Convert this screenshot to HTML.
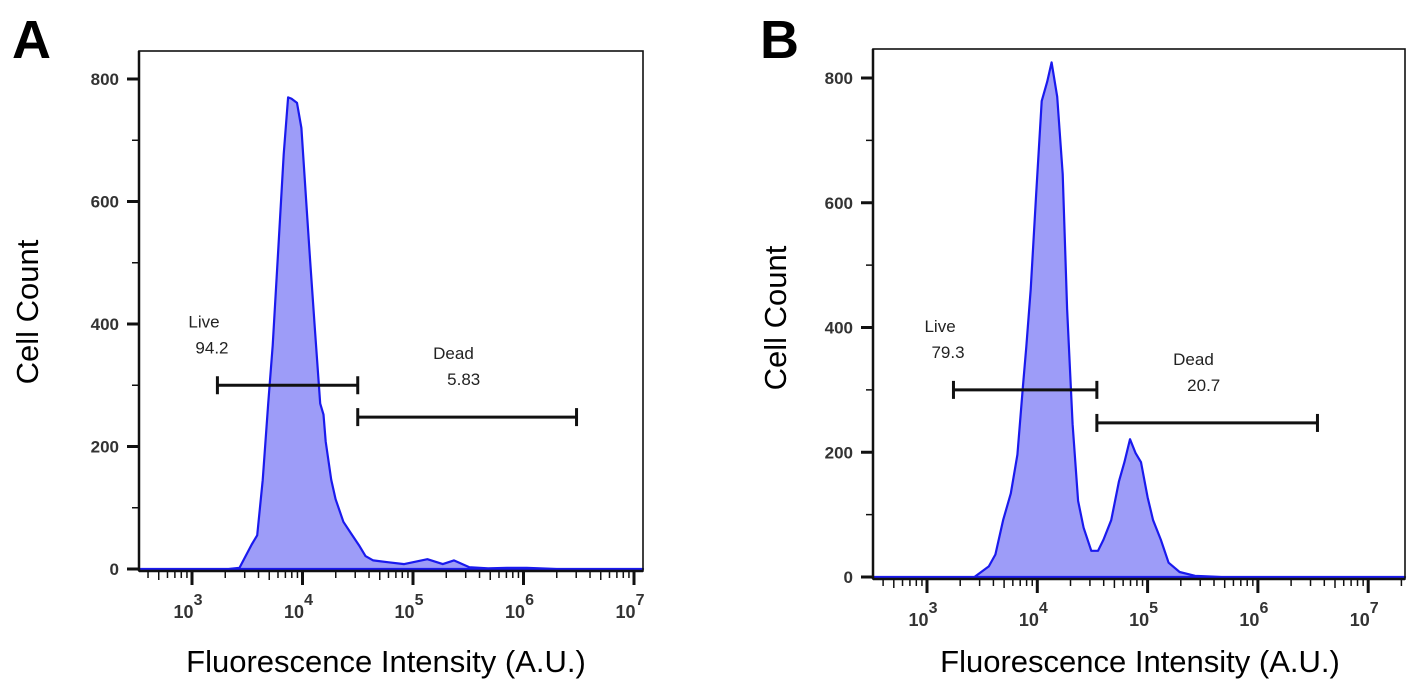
<!DOCTYPE html>
<html><head><meta charset="utf-8"><style>
html,body{margin:0;padding:0;background:#fff;}
svg{display:block;font-family:"Liberation Sans",Arial,sans-serif;}
</style></head><body>
<svg id="fig" width="1417" height="689" viewBox="0 0 1417 689">
<text x="12" y="58" font-size="54" font-weight="bold">A</text>
<text x="760" y="58" font-size="54" font-weight="bold">B</text>
<text transform="translate(38,312) rotate(-90)" text-anchor="middle" font-size="31">Cell Count</text>
<text transform="translate(786,318) rotate(-90)" text-anchor="middle" font-size="31">Cell Count</text>
<text x="386" y="672" text-anchor="middle" font-size="31">Fluorescence Intensity (A.U.)</text>
<text x="1140" y="672" text-anchor="middle" font-size="31">Fluorescence Intensity (A.U.)</text>
<g id="pa"></g>
<g id="pb"></g>
</svg>
<script>
const yTicks = [0, 200, 400, 600, 800];
const xDecades = [3, 4, 5, 6, 7];
const aLogX = [2.5,3.33,3.43,3.54,3.59,3.64,3.69,3.73,3.78,3.83,3.87,3.90,3.95,3.99,4.04,4.07,4.11,4.16,4.19,4.21,4.26,4.30,4.37,4.44,4.51,4.57,4.64,4.78,4.92,5.13,5.27,5.37,5.51,5.68,5.85,6.03,6.3,7.1];
const aCounts = [0,0,2,40,55,145,270,365,520,677,770,768,761,720,583,502,396,270,252,208,146,114,77,58,39,21,14,11,8,16,8,14,3,1,2,2,0,0];
const bLogX = [2.5,3.43,3.56,3.62,3.69,3.76,3.82,3.87,3.90,3.94,3.99,4.04,4.09,4.13,4.18,4.23,4.27,4.32,4.37,4.42,4.49,4.55,4.60,4.67,4.74,4.79,4.84,4.89,4.94,5.00,5.05,5.12,5.19,5.29,5.43,5.67,7.4];
const bCounts = [0,0,17,36,91,134,196,307,369,461,615,763,794,825,770,646,430,245,122,79,42,42,60,91,153,184,221,199,184,128,91,60,23,8,2,0,0];
const aGates = [{name:'Live',value:'94.2',from:3.23,to:4.50,y:300},{name:'Dead',value:'5.83',from:4.50,to:6.48,y:248}];
const bGates = [{name:'Live',value:'79.3',from:3.24,to:4.54,y:300},{name:'Dead',value:'20.7',from:4.54,to:6.54,y:247}];
const NS='http://www.w3.org/2000/svg';
function mk(parent, tag, attrs){const e=document.createElementNS(NS,tag);for(const k in attrs)e.setAttribute(k,attrs[k]);parent.appendChild(e);return e;}
function draw(g, cfg, xs, ys, gates, tag){
  const X=v=>cfg.x3+(v-3)*cfg.dec, Y=v=>cfg.y0-(v/800)*(cfg.y0-cfg.y800);
  const xL=cfg.left, xR=cfg.right, yT=cfg.top, yB=cfg.bottom;
  let d='M'+X(xs[0])+','+Y(0);
  xs.forEach((v,i)=>{d+=' L'+Math.max(xL,Math.min(xR,X(v))).toFixed(1)+','+Y(ys[i]).toFixed(1);});
  d+=' L'+Math.min(xR,X(xs[xs.length-1]))+','+Y(0)+' Z';
  const area=mk(g,'path',{d:d,fill:'#9d9cf8',stroke:'#1a1aee','stroke-width':2.2,'stroke-linejoin':'round'});
  
  
  const box=mk(g,'rect',{x:xL,y:yT,width:xR-xL,height:yB-yT,fill:'none',stroke:'#111','stroke-width':1.6});
  
  
  mk(g,'line',{x1:xL,y1:yB,x2:xR,y2:yB,stroke:'#111','stroke-width':2.5});
  mk(g,'line',{x1:xL,y1:yT,x2:xL,y2:yB,stroke:'#111','stroke-width':2.5});
  for(let v=0;v<=800;v+=100){const maj=v%200===0;mk(g,'line',{x1:xL-(maj?12:7),y1:Y(v),x2:xL,y2:Y(v),stroke:'#111','stroke-width':maj?3:1.5});}
  yTicks.forEach(v=>{const t=mk(g,'text',{x:xL-20,y:Y(v)+6,'text-anchor':'end','font-size':17,'font-weight':'bold',fill:'#333'});t.textContent=v;
    
    });
  for(let dd=2;dd<=7;dd++){for(let m=1;m<=9;m++){const lv=dd+Math.log10(m);const x=X(lv);if(x<xL+3||x>xR-2)continue;
    mk(g,'line',{x1:x,y1:yB,x2:x,y2:yB+(m===1?14:(m===5?9:7)),stroke:'#111','stroke-width':m===1?3:1.5});}}
  xDecades.forEach(v=>{const t=mk(g,'text',{x:X(v)-4,y:yB+47,'text-anchor':'middle','font-size':18,'font-weight':'bold',fill:'#333'});
    t.textContent='10';const s=mk(t,'tspan',{dy:-13,'font-size':16});s.textContent=v;
    
    });
  gates.forEach(gt=>{const x1=X(gt.from),x2=X(gt.to),y=Y(gt.y);
    const gg=mk(g,'g',{});
    
    
    mk(gg,'line',{x1:x1,y1:y,x2:x2,y2:y,stroke:'#111','stroke-width':3});
    mk(gg,'line',{x1:x1,y1:y-9,x2:x1,y2:y+9,stroke:'#111','stroke-width':3});
    mk(gg,'line',{x1:x2,y1:y-9,x2:x2,y2:y+9,stroke:'#111','stroke-width':3});
    const lx=gt.name==='Live'?x1-30:(x1+x2)/2-36;
    const t1=mk(gg,'text',{x:gt.name==='Live'?x1-29:lx+2,y:y-58,'font-size':17,fill:'#222'});t1.textContent=gt.name;
    const t2=mk(gg,'text',{x:gt.name==='Live'?x1-22:lx+16,y:y-32,'font-size':17,fill:'#222'});t2.textContent=gt.value;});
}
draw(document.getElementById('pa'),{left:139,right:643,top:51,bottom:571,x3:192,dec:110.5,y0:569,y800:79},aLogX,aCounts,aGates,'panel-a');
draw(document.getElementById('pb'),{left:873,right:1405,top:49,bottom:579,x3:927,dec:110.3,y0:577,y800:78},bLogX,bCounts,bGates,'panel-b');
</script>
</body></html>
